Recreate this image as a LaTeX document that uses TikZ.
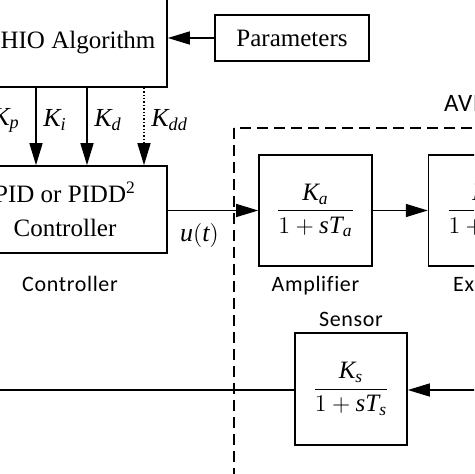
\documentclass[tikz,border=0pt]{standalone}
\usepackage{amsmath}
\usepackage{fontspec}
\setmainfont{Liberation Serif}
\newfontfamily\capfont[Ligatures=CommonOff, LetterSpace=3]{Carlito}
\usetikzlibrary{arrows.meta,positioning}

\tikzset{
	blk/.style  = {draw, line width=0.8pt, align=center, font=\fontsize{12.5}{17}\selectfont},
	tf/.style   = {draw, line width=0.8pt, minimum width=56.5pt, minimum height=55.5pt, font=\fontsize{12.5}{15}\selectfont},
	caption/.style  = {font=\capfont\fontsize{11}{13}\selectfont},
	gain/.style = {font=\fontsize{13}{15}\selectfont},
	sig/.style  = {-{Triangle[length=11pt,width=6.5pt]}, line width=0.7pt},
	avrbox/.style = {line width=0.7pt, dash pattern=on 5.5pt off 3pt},
}

\begin{document}
\begin{tikzpicture}[x=0.5pt, y=-0.5pt]
	\useasboundingbox (0,0) rectangle (474,474);
	\clip (0,0) rectangle (474,474);

	% blocks
	\node[blk, minimum width=89pt, minimum height=44pt]  (hio)    at (78,43)      {HIO Algorithm};
	\node[blk, minimum width=77pt, minimum height=23pt]  (params) at (292,38)     {Parameters};
	\node[blk, minimum width=102pt, minimum height=43.5pt] (pid)  at (65,209.5)   {PID or PIDD\textsuperscript{2}\\Controller};
	\node[tf]                 (amp)    at (315.5,210.5) {$\dfrac{\textit{K}_{\textit{a}}}{1+\textit{sT}_{\textit{a}}}$};
	\node[tf]                 (exc)    [right=27.5pt of amp] {$\dfrac{\textit{K}_{\textit{e}}}{1+\textit{sT}_{\textit{e}}}$};
	\node[tf, minimum width=56pt, minimum height=56pt] (sen) at (351,389) {$\dfrac{\textit{K}_{\textit{s}}}{1+\textit{sT}_{\textit{s}}}$};

	% captions
	\node[caption]            (ctrllbl) at (70,284)      {Controller};
	\node[caption]            (amplbl)  [below=1pt of amp]  {Amplifier};
	\node[caption]            (exclbl)  [below=1pt of exc]  {Exciter};
	\node[caption]            (senlbl)  [above=-1pt of sen] {Sensor};
	\node[caption, anchor=west, font=\capfont\fontsize{12.5}{14}\selectfont] (avrlbl) at (437,103) {AVR};

	% AVR frame
	\draw[avrbox] (234,128) rectangle (640,640);

	% gains
	\foreach \xk/\kn in {-15/p, 36/i, 87/d} {
		\coordinate (k\kn) at (\xk,0);
		\draw[sig] (hio.south -| k\kn) -- (pid.north -| k\kn) node[gain, pos=0.42, right] {$\textit{K}_{\textit{\kn}}$};
	}
	\coordinate (kdd) at (144,0);
	\draw[sig, densely dotted] (hio.south -| kdd) -- (pid.north -| kdd) node[gain, pos=0.42, right] {$\textit{K}_{\textit{dd}}$};

	% signals
	\coordinate (fbR) at (520,390);
	\coordinate (fbL) at (-30,390);
	\draw[sig] (params) -- (params -| hio.east);
	\draw[sig] (pid.east |- amp.west) -- (amp.west) node[gain, below=3pt, pos=0.35] {$\textit{u}(\textit{t})$};
	\draw[sig] (amp) -- (exc);
	\draw[sig] (fbR) -- (fbR -| sen.east);
	\draw[line width=0.7pt] (fbL -| sen.west) -- (fbL);
\end{tikzpicture}
\end{document}
